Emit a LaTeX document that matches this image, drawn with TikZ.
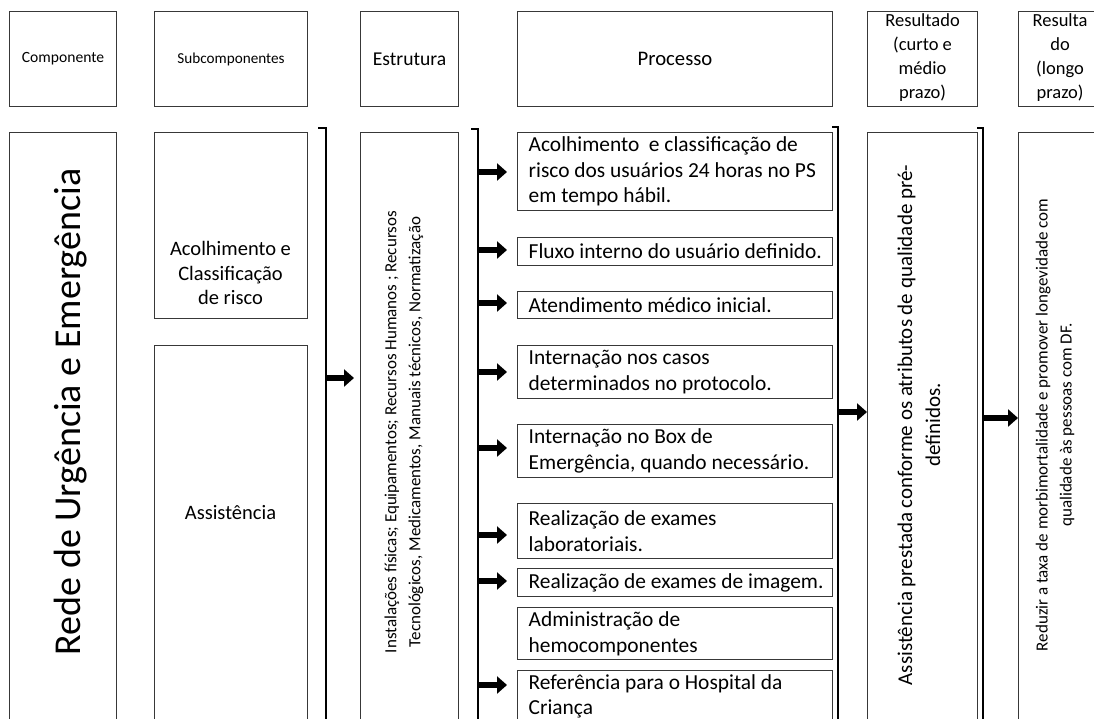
\documentclass[tikz,border=0pt]{standalone}
\usepackage{fontspec}
\setmainfont{Carlito}
\usetikzlibrary{arrows.meta}
\begin{document}
\begin{tikzpicture}[x=1pt,y=-1pt,
  box/.style={draw=black!78, line width=1.1pt, inner sep=0pt, anchor=north west},
  pbox/.style={box, minimum width=315pt},
  ptext/.style={anchor=west, inner sep=0pt, xshift=11.5pt, align=left, font=\fontsize{21.4}{25.6}\selectfont},
  brk/.style={line width=2.2pt, black},
  arr/.style={line width=6pt, -{Triangle[length=10pt,width=17pt]}},
  rtext/.style={rotate=90, align=center}
]
\useasboundingbox (0,0) rectangle (1094,718);
\clip (0,0) rectangle (1094,718);

% headers
\node[box, minimum width=107pt, minimum height=95pt, font=\fontsize{15.6}{18}\selectfont] (hComp) at (9,11) {Componente};
\node[box, minimum width=153pt, minimum height=95pt, font=\fontsize{15.2}{18}\selectfont] (hSub) at (154,11) {Subcomponentes};
\node[box, minimum width=98pt, minimum height=95pt, font=\fontsize{19.6}{24}\selectfont] (hEst) at (360,11) {Estrutura};
\node[box, minimum width=315pt, minimum height=95pt, font=\fontsize{20.7}{25}\selectfont] (hProc) at (517,11) {Processo};
\node[box, minimum width=110pt, minimum height=95pt, align=center, font=\fontsize{18.5}{24}\selectfont] (hRc) at (867,11) {};
\node[align=center, inner sep=0pt, font=\fontsize{18.5}{24}\selectfont] (hRcT) at ([yshift=1.5pt]hRc.center) {Resultado\\(curto e\\médio\\prazo)};
\node[box, minimum width=83pt, minimum height=95pt] (hRl) at (1018,11) {};
\node[align=center, inner sep=0pt, font=\fontsize{18.5}{24}\selectfont] (hRlT) at ([yshift=1.5pt]hRl.center) {Resulta\\do\\(longo\\prazo)};

% componente
\node[box, minimum width=107pt, minimum height=600pt] (bComp) at (9,132) {};
\node[rtext, font=\fontsize{38}{46}\selectfont] (tComp) at (71,412) {Rede de Urgência e Emergência};

% subcomponentes
\node[box, minimum width=153pt, minimum height=186pt] (sAco) at (154,132) {};
\node[align=center, font=\fontsize{20.5}{24.5}\selectfont] (tAco) at (230.5,273) {Acolhimento e\\Classificação\\de risco};
\node[box, minimum width=153pt, minimum height=400pt] (sAss) at (154,345) {};
\node[font=\fontsize{20.5}{24.5}\selectfont] (tAss) at (230.5,513) {Assistência};

% bracket 1 and estrutura
\draw[brk] (318,128) -- (326,128) -- (326,730);
\coordinate (b1) at (326,378);
\node[box, minimum width=98pt, minimum height=600pt] (bEst) at (360,132) {};
\draw[arr, shorten >=6pt] (b1) -- (b1 -| bEst.west);
\node[rtext, font=\fontsize{17}{24}\selectfont] (tEst) at (404,432) {Instalações físicas; Equipamentos; Recursos Humanos ; Recursos\\Tecnológicos, Medicamentos, Manuais técnicos, Normatização};

% process bracket
\draw[brk] (471,129) -- (478,129) -- (478,730);

% process boxes
\node[pbox, minimum height=78pt] (p1) at (517,132) {};
\node[pbox, minimum height=28pt] (p2) at (517,237) {};
\node[pbox, minimum height=27pt] (p3) at (517,291) {};
\node[pbox, minimum height=53pt] (p4) at (517,345) {};
\node[pbox, minimum height=53pt] (p5) at (517,424) {};
\node[pbox, minimum height=55pt] (p6) at (517,503) {};
\node[pbox, minimum height=28pt] (p7) at (517,568) {};
\node[pbox, minimum height=52pt] (p8) at (517,607) {};
\node[pbox, minimum height=52pt] (p9) at (517,670) {};
\node[ptext] (t1) at (p1.west) {Acolhimento~ e classificação de\\risco dos usuários 24 horas no PS\\em tempo hábil.};
\node[ptext] (t2) at (p2.west) {Fluxo interno do usuário definido.};
\node[ptext] (t3) at (p3.west) {Atendimento médico inicial.};
\node[ptext] (t4) at (p4.west) {Internação nos casos\\determinados no protocolo.};
\node[ptext] (t5) at (p5.west) {Internação no Box de\\Emergência, quando necessário.};
\node[ptext] (t6) at (p6.west) {Realização de exames\\laboratoriais.};
\node[ptext] (t7) at (p7.west) {Realização de exames de imagem.};
\node[ptext] (t8) at (p8.west) {Administração de\\hemocomponentes};
\node[ptext] (t9) at (p9.west) {Referência para o Hospital da\\Criança};

% process arrows
\coordinate (q1) at (478,172);
\coordinate (q2) at (478,250);
\coordinate (q3) at (478,303);
\coordinate (q4) at (478,372);
\coordinate (q5) at (478,448);
\coordinate (q6) at (478,535);
\coordinate (q7) at (478,581);
\coordinate (q9) at (478,685);
\draw[arr, shorten >=10pt] (q1) -- (q1 -| p1.west);
\draw[arr, shorten >=10pt] (q2) -- (q2 -| p2.west);
\draw[arr, shorten >=10pt] (q3) -- (q3 -| p3.west);
\draw[arr, shorten >=10pt] (q4) -- (q4 -| p4.west);
\draw[arr, shorten >=10pt] (q5) -- (q5 -| p5.west);
\draw[arr, shorten >=10pt] (q6) -- (q6 -| p6.west);
\draw[arr, shorten >=10pt] (q7) -- (q7 -| p7.west);
\draw[arr, shorten >=10pt] (q9) -- (q9 -| p9.west);

% right process bracket and result (short/medium)
\draw[brk] (832,127) -- (838,127) -- (838,730);
\coordinate (q10) at (838,412);
\node[box, minimum width=110pt, minimum height=600pt] (bRc) at (867,132) {};
\draw[arr] (q10) -- (q10 -| bRc.west);
\node[rtext, font=\fontsize{21}{28}\selectfont] (tRc) at (919,425) {Assistência prestada conforme os atributos de qualidade pré-\\definidos.};

% result bracket and long-term
\draw[brk] (977,128) -- (983,128) -- (983,730);
\coordinate (q11) at (983,418);
\node[box, minimum width=83pt, minimum height=600pt] (bRl) at (1018,132) {};
\draw[arr] (q11) -- (q11 -| bRl.west);
\node[rtext, font=\fontsize{17}{24}\selectfont] (tRl) at (1055,425) {Reduzir a taxa de morbimortalidade e promover longevidade com\\qualidade às pessoas com DF.};
\end{tikzpicture}
\end{document}
